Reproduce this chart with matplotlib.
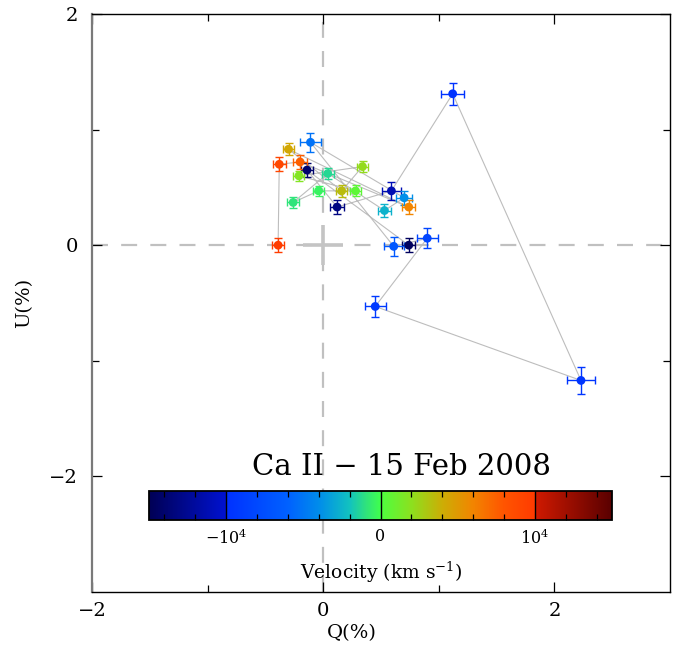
import matplotlib
matplotlib.use("Agg")
import matplotlib.pyplot as plt
import numpy as np
from matplotlib.colors import LinearSegmentedColormap, Normalize
from matplotlib.cm import ScalarMappable

plt.rcParams['font.family'] = ['DejaVu Serif', 'DejaVu Sans']
plt.rcParams['mathtext.fontset'] = 'dejavuserif'
plt.rcParams['lines.scale_dashes'] = False

# Data (ordered by velocity bin)
velocity = [-14600, -14000, -13200, -11200, -9900, -9600, -9200, -8300, -6800,
            -5200, -3900, -2600, -1300, -900, -400, 500, 1700, 2200, 3400,
            4300, 6000, 7600, 9000, 9800]
q_pct = [0.74, -0.14, 0.12, 0.59, 1.12, 2.23, 0.45, 0.90, 0.61,
         -0.11, 0.70, 0.53, 0.04, -0.26, -0.04, 0.28, -0.21, 0.34, 0.16,
         -0.30, 0.74, -0.20, -0.38, -0.39]
u_pct = [0.00, 0.65, 0.33, 0.47, 1.31, -1.17, -0.53, 0.06, -0.01,
         0.89, 0.41, 0.30, 0.62, 0.37, 0.47, 0.47, 0.60, 0.68, 0.47,
         0.83, 0.33, 0.72, 0.70, 0.00]
q_err = [0.055, 0.050, 0.058, 0.084, 0.098, 0.120, 0.090, 0.090, 0.087,
         0.087, 0.068, 0.060, 0.054, 0.049, 0.050, 0.048, 0.048, 0.046, 0.050,
         0.050, 0.058, 0.064, 0.054, 0.055]
u_err = [0.058, 0.058, 0.058, 0.076, 0.094, 0.120, 0.090, 0.087, 0.084,
         0.082, 0.060, 0.060, 0.050, 0.046, 0.045, 0.048, 0.045, 0.049, 0.050,
         0.050, 0.058, 0.060, 0.060, 0.058]
isp_q, isp_u, isp_err = 0.0, 0.0, 0.175

vmin, vmax = -15000, 15000
cbar_major = [-10000, 0, 10000]
cbar_labels = [r'$-10^{4}$', '0', r'$10^{4}$']
cbar_minor = [-14000, -12000, -8000, -6000, -4000, -2000, 2000, 4000, 6000, 8000, 12000, 14000]

e = 1e-4
stops = [
    (0.0, (0.0, 0.0, 0.33)),
    (1/6, (0.0, 0.07, 0.82)),
    (1/6 + e, (0.0, 0.19, 1.0)),
    (0.30, (0.0, 0.38, 1.0)),
    (0.3667, (0.0, 0.55, 0.92)),
    (0.4333, (0.07, 0.76, 0.75)),
    (0.4667, (0.18, 0.88, 0.50)),
    (0.5, (0.25, 1.0, 0.30)),
    (0.5 + e, (0.30, 1.0, 0.25)),
    (0.5667, (0.55, 0.88, 0.12)),
    (0.6333, (0.80, 0.68, 0.02)),
    (0.70, (0.95, 0.52, 0.0)),
    (0.7667, (1.0, 0.33, 0.0)),
    (5/6, (1.0, 0.23, 0.0)),
    (5/6 + e, (0.82, 0.10, 0.0)),
    (1.0, (0.35, 0.0, 0.0)),
]
cmap = LinearSegmentedColormap.from_list('vel', stops, N=1024)
norm = Normalize(vmin, vmax)

fig = plt.figure(figsize=(6.81, 6.52), dpi=100)
ax = fig.add_axes([92/681, 1 - 592/652, 578/681, 578/652])
ax.set_xlim(-2, 3)
ax.set_ylim(-3, 2)

dash = (0, (11.5, 9.5))
ax.axhline(0, color='#c0c0c0', lw=1.6, ls=dash, zorder=1)
ax.axvline(0, color='#c0c0c0', lw=1.6, ls=dash, zorder=1)

ax.errorbar([isp_q], [isp_u], xerr=[isp_err], yerr=[isp_err], fmt='none',
            ecolor='#c4c4c4', elinewidth=2.6, capsize=0, zorder=2)

ax.plot(q_pct, u_pct, color='#bdbdbd', lw=0.8, zorder=3)

for qi, ui, qe, ue, v in zip(q_pct, u_pct, q_err, u_err, velocity):
    c = cmap(norm(v))
    ax.errorbar([qi], [ui], xerr=[qe], yerr=[ue], fmt='none', ecolor=c,
                elinewidth=1.0, capsize=3, capthick=1.0, zorder=4)
ax.scatter(q_pct, u_pct, c=velocity, cmap=cmap, norm=norm, s=40,
           edgecolors='none', zorder=5)

ax.set_xticks([-2, 0, 2])
ax.set_yticks([-2, 0, 2])
ax.set_xticks([-1, 1], minor=True)
ax.set_yticks([-1, 1], minor=True)
ax.set_xticklabels(['\u22122', '0', '2'])
ax.set_yticklabels(['\u22122', '0', '2'])
ax.tick_params(which='both', direction='in', top=True, right=True, width=0.9,
               labelsize=14, color='k')
ax.tick_params(axis='x', which='major', length=7, pad=7)
ax.tick_params(axis='y', which='major', length=7, pad=10)
ax.tick_params(which='minor', length=5)
for s in ['top', 'right', 'bottom']:
    ax.spines[s].set_linewidth(1.0)
    ax.spines[s].set_color('k')
ax.spines['left'].set_color('#7a7a7a')
ax.spines['left'].set_linewidth(1.6)

fig.text(352/681, 1 - 633/652, 'Q(%)', ha='center', va='center', fontsize=14)
fig.text(24/681, 1 - 303/652, 'U(%)', ha='center', va='center', fontsize=14,
         rotation=90)

fig.text(402/681, 1 - 467/652, 'Ca II \u2212 15 Feb 2008', fontsize=21,
         ha='center', va='center')

# Colorbar
cax = fig.add_axes([149/681, 1 - 520/652, 463/681, 29/652])
sm = ScalarMappable(norm=norm, cmap=cmap)
cb = fig.colorbar(sm, cax=cax, orientation='horizontal')
cb.outline.set_linewidth(1.3)
cb.set_ticks(cbar_major)
cb.set_ticklabels(cbar_labels)
cax.set_xticks(cbar_minor, minor=True)
for v in cbar_major:
    cax.axvline(v, color='k', lw=1.0)
cax.tick_params(which='major', length=0, pad=6, labelsize=11.5)
cax.tick_params(which='minor', direction='in', top=True, bottom=True,
                length=4, width=0.9, color='k')
fig.text(381/681, 1 - 572/652, 'Velocity (km s$^{-1}$)', ha='center',
         va='center', fontsize=13.5)

fig.savefig('out.png', dpi=100)
